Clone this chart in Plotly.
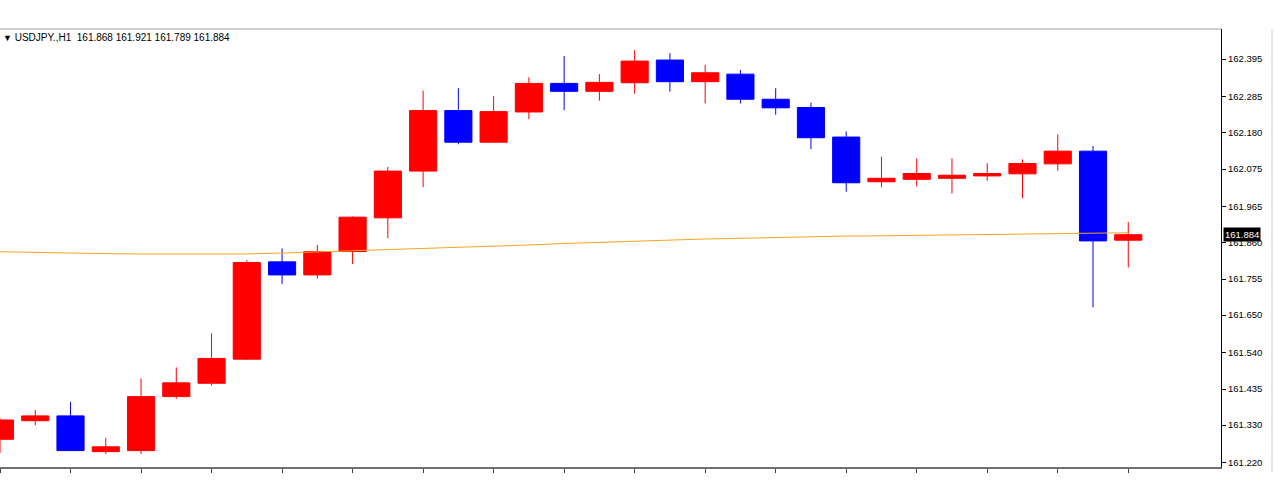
import plotly.graph_objects as go

# Candle index (hourly bars)
bars = list(range(33))

open_ = [161.289, 161.343, 161.357, 161.253, 161.256, 161.413, 161.452, 161.522, 161.805, 161.767,
         161.835, 161.933, 162.069, 162.245, 162.153, 162.241, 162.324, 162.301, 162.326, 162.392,
         162.329, 162.351, 162.278, 162.254, 162.168, 162.038, 162.045, 162.048, 162.055, 162.061,
         162.090, 162.127, 161.868]
high = [161.350, 161.374, 161.398, 161.293, 161.466, 161.498, 161.597, 161.810, 161.844, 161.854,
        161.937, 162.081, 162.303, 162.310, 162.287, 162.342, 162.404, 162.351, 162.421, 162.412,
        162.378, 162.363, 162.310, 162.268, 162.184, 162.111, 162.106, 162.106, 162.092, 162.103,
        162.176, 162.142, 161.921]
low = [161.249, 161.330, 161.256, 161.246, 161.246, 161.407, 161.445, 161.520, 161.741, 161.757,
       161.799, 161.874, 162.022, 162.147, 162.152, 162.220, 162.246, 162.274, 162.294, 162.300,
       162.266, 162.266, 162.233, 162.133, 162.009, 162.022, 162.024, 162.004, 162.041, 161.990,
       162.070, 161.673, 161.789]
close = [161.345, 161.357, 161.256, 161.267, 161.413, 161.453, 161.524, 161.803, 161.767, 161.835,
         161.935, 162.069, 162.245, 162.153, 162.242, 162.324, 162.301, 162.327, 162.389, 162.329,
         162.355, 162.278, 162.253, 162.166, 162.035, 162.048, 162.062, 162.057, 162.062, 162.091,
         162.127, 161.866, 161.884]
ma = [161.8345, 161.832, 161.829, 161.8287, 161.828, 161.828, 161.828, 161.828, 161.8307, 161.834,
      161.8365, 161.839, 161.844, 161.8473, 161.851, 161.854, 161.8584, 161.862, 161.8656, 161.868,
      161.8715, 161.8735, 161.876, 161.878, 161.880, 161.8808, 161.882, 161.8837, 161.885, 161.886,
      161.888, 161.8897, 161.8897]

ytick_vals = [162.395, 162.285, 162.180, 162.075, 161.965, 161.860, 161.755, 161.650, 161.540,
              161.435, 161.330, 161.220]
ytick_text = ["162.395", "162.285", "162.180", "162.075", "161.965", "161.860", "161.755",
              "161.650", "161.540", "161.435", "161.330", "161.220"]
xtick_vals = list(range(0, 33, 2))

title_text = "USDJPY.,H1  161.868 161.921 161.789 161.884"
last_price = 161.884

FONT = "Liberation Sans"

fig = go.Figure()
fig.add_trace(go.Candlestick(
    x=bars, open=open_, high=high, low=low, close=close,
    increasing=dict(line=dict(color="#FF0000", width=1), fillcolor="#FF0000"),
    decreasing=dict(line=dict(color="#0000FF", width=1), fillcolor="#0000FF"),
    whiskerwidth=0, showlegend=False, hoverinfo="skip",
))
fig.add_trace(go.Scatter(
    x=bars, y=ma, mode="lines", line=dict(color="#F5A623", width=1),
    showlegend=False, hoverinfo="skip",
))

fig.update_layout(
    width=1274, height=500,
    margin=dict(l=0, r=53, t=29, b=33),
    paper_bgcolor="white", plot_bgcolor="white",
    boxgap=0.23, boxgroupgap=0,
    font=dict(family=FONT, size=10, color="black"),
    xaxis=dict(
        range=[0, 34.63], rangeslider=dict(visible=False),
        showgrid=False, zeroline=False, showticklabels=False,
        tickmode="array", tickvals=xtick_vals, ticks="outside", ticklen=4,
        tickcolor="#404040", showline=True, linecolor="#707070", linewidth=2,
    ),
    yaxis=dict(
        side="right", range=[161.2083, 162.4823],
        showgrid=False, zeroline=False,
        tickmode="array", tickvals=ytick_vals, ticktext=ytick_text,
        ticks="outside", ticklen=4, tickcolor="black",
        showline=True, linecolor="black", linewidth=1,
        tickfont=dict(family=FONT, size=9.5, color="black"),
    ),
    shapes=[
        dict(type="line", xref="paper", yref="paper", x0=0, x1=1, y0=1, y1=1,
             line=dict(color="#A0A0A0", width=1)),
        dict(type="line", xref="paper", yref="paper", x0=1272 / 1221, x1=1272 / 1221,
             y0=-5 / 438, y1=1, line=dict(color="#D0D0D0", width=1)),
    ],
    annotations=[
        dict(xref="paper", yref="paper", x=0, y=1, xanchor="left", yanchor="top",
             yshift=-1, xshift=1, showarrow=False,
             text="<span style='font-size:9px'>▼</span> " + title_text,
             font=dict(family=FONT, size=10, color="black")),
        dict(xref="paper", yref="y", x=1, y=last_price, xanchor="left", yanchor="middle",
             xshift=2, showarrow=False, text=f"{last_price:.3f}",
             bgcolor="black", borderpad=1,
             font=dict(family=FONT, size=9.5, color="white")),
    ],
)

fig.write_html("out.html")
